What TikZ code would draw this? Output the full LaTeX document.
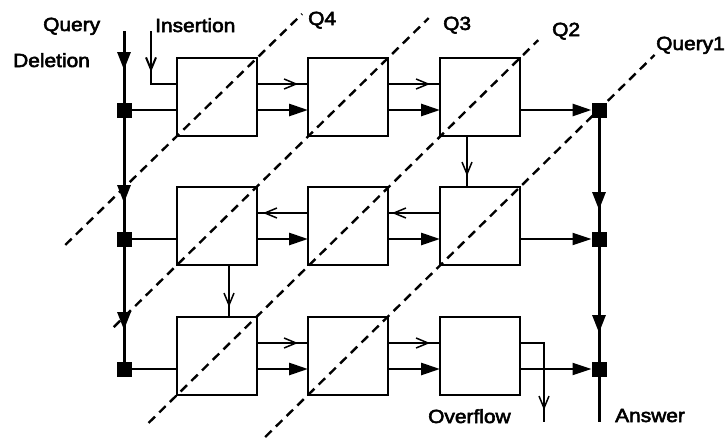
\documentclass[tikz,border=0pt]{standalone}
\usepackage{fontspec}
\setmainfont{Liberation Sans}[FakeStretch=1.1,FakeBold=3]
\usetikzlibrary{arrows.meta,calc,decorations.markings}
\begin{document}
\begin{tikzpicture}[x=1pt,y=-1pt,
  box/.style={draw, line width=2.8pt, minimum width=80pt, minimum height=78pt, inner sep=0pt, outer sep=0pt, anchor=north west},
  junc/.style={fill, minimum size=15pt, inner sep=0pt, outer sep=0pt},
  lbl/.style={font=\fontsize{19}{22}\selectfont, inner sep=0pt, anchor=base west},
  thickc/.style={line width=2.8pt},
  medc/.style={line width=2pt},
  thinc/.style={line width=1.5pt},
  mainline/.style={line width=3pt},
  bigtip/.style={-{Triangle[length=19pt,width=12pt]}},
  dashline/.style={line width=2.4pt, dash pattern=on 9pt off 6pt},
  bigmid/.style={postaction={decorate,decoration={markings,mark=at position #1 with {\arrow{Triangle[length=18pt,width=13pt]}}}}},
  smallmid/.style={postaction={decorate,decoration={markings,mark=at position #1 with {\arrow{Straight Barb[length=12pt,width=10pt]}}}}}
]
\useasboundingbox (0,0) rectangle (726,439);

% boxes
\node[box] (b11) at (177,58) {};
\node[box] (b12) at (308,58) {};
\node[box] (b13) at (440,58) {};
\node[box] (b21) at (177,187) {};
\node[box] (b22) at (308,187) {};
\node[box] (b23) at (440,187) {};
\node[box] (b31) at (177,317) {};
\node[box] (b32) at (308,317) {};
\node[box] (b33) at (440,317) {};

% junctions
\node[junc] (L1) at (124,110) {};
\node[junc] (L2) at (124,239) {};
\node[junc] (L3) at (124,369) {};
\node[junc] (R1) at (599,110) {};
\node[junc] (R2) at (599,239) {};
\node[junc] (R3) at (599,369) {};
\coordinate (qtop) at (124,31);
\coordinate (itop) at (151,31);
\coordinate (ans) at (599,422);
\coordinate (ovf) at (544,422);

% dashed query fronts
\draw[dashline] ($(b11.south west)!-1.397!(b11.north east)$) -- ($(b11.south west)!1.564!(b11.north east)$);
\draw[dashline] ($(b21.south west)!-0.3!(b12.north east)$) -- ($(b21.south west)!1.193!(b12.north east)$);
\draw[dashline] ($(b31.south west)!-0.083!(b13.north east)$) -- ($(b31.south west)!1.053!(b13.north east)$);
\draw[dashline] ($(b32.south west)!-0.202!(b23.north east)$) -- ($(b32.south west)!1.635!(b23.north east)$);

% left main line
\draw[mainline, bigmid=39pt] (qtop) -- (L1.center);
\draw[mainline, bigmid=93pt] (L1.center) -- (L2.center);
\draw[mainline, bigmid=91pt] (L2.center) -- (L3.center);
% right main line
\draw[mainline, bigmid=100pt] (R1.center) -- (R2.center);
\draw[mainline, bigmid=94pt] (R2.center) -- (R3.center);
\draw[mainline] (R3.center) -- (ans);

% insertion
\draw[medc, smallmid=41pt] (itop) |- ([yshift=-26pt]b11.north west);

% row 1
\draw[thickc] (L1.center) -- (L1 -| b11.west);
\draw[thinc, smallmid=-10pt] ([yshift=-26pt]b11.north east) -- ([yshift=-26pt]b12.north west);
\draw[thinc, smallmid=-10pt] ([yshift=-26pt]b12.north east) -- ([yshift=-26pt]b13.north west);
\draw[thickc, bigtip] (b11.east |- L1) -- (b12.west |- L1);
\draw[thickc, bigtip] (b12.east |- L1) -- (b13.west |- L1);
\draw[thickc, bigtip] (b13.east |- R1) -- (R1.west);
\draw[thinc, smallmid=40pt] ([xshift=27pt]b13.south west) -- ([xshift=27pt]b23.north west);

% row 2
\draw[thickc] (L2.center) -- (L2 -| b21.west);
\draw[thinc, smallmid=-6pt] ([yshift=-26pt]b22.north west) -- ([yshift=-26pt]b21.north east);
\draw[thinc, smallmid=-4pt] ([yshift=-26pt]b23.north west) -- ([yshift=-26pt]b22.north east);
\draw[thickc, bigtip] (b21.east |- L2) -- (b22.west |- L2);
\draw[thickc, bigtip] (b22.east |- L2) -- (b23.west |- L2);
\draw[medc, bigtip] (b23.east |- R2) -- (R2.west);
\draw[thinc, smallmid=42pt] ([xshift=52pt]b21.south west) -- ([xshift=52pt]b31.north west);

% row 3
\draw[thickc] (L3.center) -- (L3 -| b31.west);
\draw[thinc, smallmid=-10pt] ([yshift=-26pt]b31.north east) -- ([yshift=-26pt]b32.north west);
\draw[thinc, smallmid=-10pt] ([yshift=-26pt]b32.north east) -- ([yshift=-26pt]b33.north west);
\draw[thickc, bigtip] (b31.east |- L3) -- (b32.west |- L3);
\draw[thickc, bigtip] (b32.east |- L3) -- (b33.west |- L3);
\draw[medc, bigtip] (b33.east |- R3) -- (R3.west);
\draw[thinc, smallmid=-12pt] ([yshift=-26pt]b33.north east) -| (ovf);

% labels
\node[lbl] (tq) at (43,31) {Query};
\node[lbl] (td) at (13,67) {Deletion};
\node[lbl] (ti) at (155,32) {Insertion};
\node[lbl] (q4) at (308,25) {Q4};
\node[lbl] (q3) at (443,30) {Q3};
\node[lbl] (q2) at (552,36) {Q2};
\node[lbl] (q1) at (656,50) {Query1};
\node[lbl] (to) at (428,423) {Overflow};
\node[lbl] (ta) at (615,422) {Answer};
\end{tikzpicture}
\end{document}
